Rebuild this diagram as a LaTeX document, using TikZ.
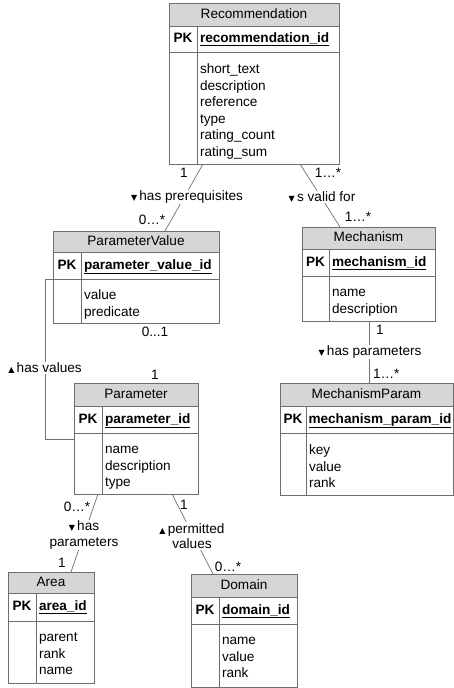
\documentclass[tikz,border=0pt]{standalone}
\usepackage{fontspec}
\setmainfont{Liberation Sans}
\newfontfamily\symfont{DejaVu Sans}
\usetikzlibrary{fit}
\definecolor{bordercol}{HTML}{6E6E6E}
\definecolor{hdrcol}{HTML}{D6D6D6}
\definecolor{linkcol}{HTML}{707070}
\newcommand\tdn{{\symfont\fontsize{8}{8}\selectfont ▼}\,}
\newcommand\tup{{\symfont\fontsize{8}{8}\selectfont ▲}\,}
% #1 name, #2 left, #3 top, #4 right, #5 bottom, #6 header bottom, #7 pk bottom, #8 divider, #9 title
\newcommand\ertable[9]{%
  \fill[hdrcol] (#2,#3) rectangle (#4,#6);
  \coordinate (#1-nw) at (#2,#3);
  \coordinate (#1-se) at (#4,#5);
  \node[tblbox, fit=(#1-nw)(#1-se)] (#1) {};
  \draw[tblline] (#2,#6) -- (#4,#6);
  \draw[tblline] (#2,#7) -- (#4,#7);
  \draw[tblline] (#8,#6) -- (#8,#5);
  \node[ttl] (#1-title) at ({(#2+#4)/2},{(#3+#6)/2}) {#9};
  \node[pklbl] (#1-pk) at ({(#2+#8)/2},{(#6+#7)/2}) {PK};
}
\tikzset{
  x=1pt, y=-1pt,
  every node/.style={font=\fontsize{13.6}{16.6}\selectfont, inner sep=0pt, outer sep=0pt},
  tblbox/.style={draw=bordercol, line width=0.9pt, inner sep=0pt},
  tblline/.style={draw=bordercol, line width=0.9pt},
  ttl/.style={text height=10pt, text depth=3pt},
  pklbl/.style={font=\fontsize{13.6}{16.6}\selectfont\bfseries, text height=10pt, text depth=3pt},
  pkfld/.style={anchor=west, font=\fontsize{13.6}{16.6}\selectfont\bfseries, text height=10pt, text depth=3pt},
  fld/.style={anchor=west, text height=10pt, text depth=3pt},
  link/.style={draw=linkcol, line width=0.7pt},
  rel/.style={fill=white, inner sep=1pt, align=center, font=\fontsize{13.6}{15.5}\selectfont},
  mult/.style={text height=10pt, text depth=2pt},
}
\begin{document}
\begin{tikzpicture}
\useasboundingbox (0,0) rectangle (454,688);
\fill[white] (0,0) rectangle (454,688);

% Recommendation
\ertable{rec}{169}{3}{339}{164}{26}{52}{197}{Recommendation}
\node[pkfld] (rec-id) at (200,39) {\underline{recommendation\_id}};
\foreach \t [count=\i] in {short\_text,description,reference,type,rating\_count,rating\_sum}
  \node[fld] (rec-f\i) at (200,{70+(\i-1)*16.6}) {\t};

% ParameterValue
\ertable{pv}{53}{231}{219}{323}{252}{279}{81}{ParameterValue}
\node[pkfld] (pv-id) at (84,265.5) {\underline{parameter\_value\_id}};
\foreach \t [count=\i] in {value,predicate}
  \node[fld] (pv-f\i) at (84,{296+(\i-1)*16.6}) {\t};

% Mechanism
\ertable{mech}{302}{227}{435}{321}{249}{276}{329}{Mechanism}
\node[pkfld] (mech-id) at (332,262.5) {\underline{mechanism\_id}};
\foreach \t [count=\i] in {name,description}
  \node[fld] (mech-f\i) at (332,{293+(\i-1)*16.6}) {\t};

% Parameter
\ertable{par}{74}{383}{198}{494}{406}{433}{102}{Parameter}
\node[pkfld] (par-id) at (105,419.5) {\underline{parameter\_id}};
\foreach \t [count=\i] in {name,description,type}
  \node[fld] (par-f\i) at (105,{450+(\i-1)*16.6}) {\t};

% MechanismParam
\ertable{mp}{280}{383}{453}{495}{406}{433}{306}{MechanismParam}
\node[pkfld] (mp-id) at (308.5,419.5) {\underline{mechanism\_param\_id}};
\foreach \t [count=\i] in {key,value,rank}
  \node[fld] (mp-f\i) at (309,{451+(\i-1)*16.6}) {\t};

% Area
\ertable{area}{8}{572}{94}{683}{593}{621}{36}{Area}
\node[pkfld] (area-id) at (39,607) {\underline{area\_id}};
\foreach \t [count=\i] in {parent,rank,name}
  \node[fld] (area-f\i) at (39,{638+(\i-1)*16.6}) {\t};

% Domain
\ertable{dom}{191}{574}{297}{687}{597}{624}{219}{Domain}
\node[pkfld] (dom-id) at (222,610.5) {\underline{domain\_id}};
\foreach \t [count=\i] in {name,value,rank}
  \node[fld] (dom-f\i) at (222,{641+(\i-1)*16.6}) {\t};

% Connectors
\draw[link] ([xshift=34pt]rec.south west) -- ([xshift=112pt]pv.north west);
\node[rel] (l1) at (187,197) {\tdn has prerequisites};
\node[mult] (m1a) at (184,173) {1};
\node[mult] (m1b) at (152,220) {0…*};

\draw[link] ([xshift=-39pt]rec.south east) -- ([xshift=38pt]mech.north west);
\node[rel] (l2) at (322,197) {\tdn s valid for};
\node[mult] (m2a) at (328,173) {1…*};
\node[mult] (m2b) at (358,217) {1…*};

\draw[link] ([xshift=67pt]mech.south west) -- ([xshift=89pt]mp.north west);
\node[rel] (l3) at (370,352) {\tdn has parameters};
\node[mult, anchor=west] (m3a) at (376,330) {1};
\node[mult, anchor=west] (m3b) at (373,374) {1…*};

\coordinate (c4a) at (45,279);
\coordinate (c4b) at (45,439);
\draw[link] (pv.west |- c4a) -- (c4a) -- (c4b) -- (par.west |- c4b);
\node[rel] (l4) at (45,368) {\tup has values};
\node[mult] (m4a) at (155,332) {0...1};
\node[mult] (m4b) at (155,375) {1};

\draw[link] ([xshift=24pt]par.south west) -- ([xshift=63pt]area.north west);
\node[rel] (l5) at (84,535) {\tdn has\\parameters};
\node[mult] (m5a) at (77,507) {0…*};
\node[mult] (m5b) at (62,563) {1};

\draw[link] ([xshift=98pt]par.south west) -- ([xshift=22pt]dom.north west);
\node[rel] (l6) at (192,536) {\tup permitted\\values};
\node[mult] (m6a) at (184,505) {1};
\node[mult] (m6b) at (228,567) {0…*};
\end{tikzpicture}
\end{document}
